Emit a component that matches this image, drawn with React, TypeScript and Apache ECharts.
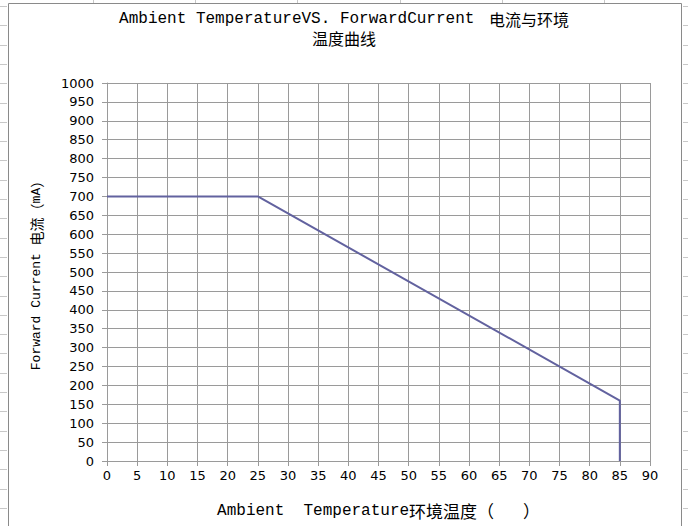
import React, { useEffect, useRef } from "react";
import * as echarts from "echarts";

// Data
const temperature: number[] = [0, 25, 85, 85];
const forwardCurrent: number[] = [700, 700, 160, 0];
const xRange: number[] = [0, 90, 5];
const yRange: number[] = [0, 1000, 50];

const titleLatin = "Ambient TemperatureVS. ForwardCurrent ";
const titleCjk1 = "电流与环境";
const titleCjk2 = "温度曲线";

const LINE_COLOR = "#62629f";
const GRID_COLOR = "#9a9a9a";
const MONO = "'Liberation Mono', 'Noto Sans CJK SC', monospace";
const CJK = "'Noto Sans CJK SC', sans-serif";

export default function App() {
  const ref = useRef<HTMLDivElement>(null);

  useEffect(() => {
    if (!ref.current) return;
    const chart = echarts.init(ref.current, undefined, { renderer: "svg" });

    const decorations: any[] = [];
    // spreadsheet frame around the chart
    decorations.push({
      type: "rect",
      shape: { x: 8.5, y: 3.5, width: 673, height: 540 },
      style: { fill: "none", stroke: "#8a8a8a", lineWidth: 1 },
      silent: true,
    });
    for (let k = 0; k < 27; k++) {
      const y = Math.round(6 + 19.3 * k) + 0.5;
      decorations.push({
        type: "line",
        shape: { x1: 0, y1: y, x2: 7, y2: y },
        style: { stroke: "#c8c8c8", lineWidth: 1 },
        silent: true,
      });
      decorations.push({
        type: "line",
        shape: { x1: 683, y1: y, x2: 688, y2: y },
        style: { stroke: "#c8c8c8", lineWidth: 1 },
        silent: true,
      });
    }
    for (let k = 0; k < 6; k++) {
      const x = Math.round(93 + 102.2 * k) + 0.5;
      decorations.push({
        type: "line",
        shape: { x1: x, y1: 0, x2: x, y2: 3 },
        style: { stroke: "#c8c8c8", lineWidth: 1 },
        silent: true,
      });
    }

    chart.setOption({
      animation: false,
      backgroundColor: "#ffffff",
      title: {
        text: `{a|${titleLatin}}{c|${titleCjk1}}\n{b|${titleCjk2}}`,
        left: "center",
        top: 4,
        textStyle: {
          fontWeight: "normal",
          rich: {
            a: { fontFamily: MONO, fontSize: 16, fontWeight: "normal", color: "#000", lineHeight: 19 },
            b: { fontFamily: CJK, fontSize: 16, fontWeight: "normal", color: "#000", lineHeight: 19 },
            c: { fontFamily: CJK, fontSize: 16, fontWeight: "normal", color: "#000", lineHeight: 19, padding: [0, 0, 0, 5] },
          },
        },
      },
      graphic: decorations,
      grid: { left: 107, right: 38, top: 83, bottom: 65, containLabel: false },
      xAxis: {
        type: "value",
        min: xRange[0],
        max: xRange[1],
        interval: xRange[2],
        name: "{a|Ambient  Temperature}{b|环境温度（}{a|   }{b|）}",
        nameLocation: "middle",
        nameGap: 41,
        nameTextStyle: {
          rich: {
            a: { fontFamily: MONO, fontSize: 16, color: "#000" },
            b: { fontFamily: CJK, fontSize: 17, color: "#000" },
          },
        },
        axisLine: { show: true, lineStyle: { color: GRID_COLOR, width: 1 } },
        axisTick: { show: true, length: 5, lineStyle: { color: GRID_COLOR } },
        axisLabel: {
          fontFamily: "'DejaVu Sans', sans-serif",
          fontSize: 13,
          color: "#000",
          margin: 8,
          formatter: (v: number) => String(v),
        },
        splitLine: { show: true, lineStyle: { color: GRID_COLOR, width: 1 } },
      },
      yAxis: {
        type: "value",
        min: yRange[0],
        max: yRange[1],
        interval: yRange[2],
        name: "{a|Forward Current }{b|电流（}{a|mA}{b|）}",
        nameLocation: "middle",
        nameRotate: 90,
        nameGap: 64,
        nameTextStyle: {
          rich: {
            a: { fontFamily: MONO, fontSize: 13, color: "#000" },
            b: { fontFamily: CJK, fontSize: 14, color: "#000" },
          },
        },
        axisLine: { show: true, lineStyle: { color: GRID_COLOR, width: 1 } },
        axisTick: { show: true, length: 5, lineStyle: { color: GRID_COLOR } },
        axisLabel: {
          fontFamily: "'DejaVu Sans', sans-serif",
          fontSize: 13,
          color: "#000",
          margin: 13,
          formatter: (v: number) => String(v),
        },
        splitLine: { show: true, lineStyle: { color: GRID_COLOR, width: 1 } },
      },
      series: [
        {
          type: "line",
          data: temperature.map((t, i) => [t, forwardCurrent[i]]),
          symbol: "none",
          lineStyle: { color: LINE_COLOR, width: 2 },
          itemStyle: { color: LINE_COLOR },
        },
      ],
    });

    return () => chart.dispose();
  }, []);

  return (
    <div
      ref={ref}
      style={{ position: "absolute", left: 0, top: 0, width: 688, height: 526 }}
    />
  );
}
